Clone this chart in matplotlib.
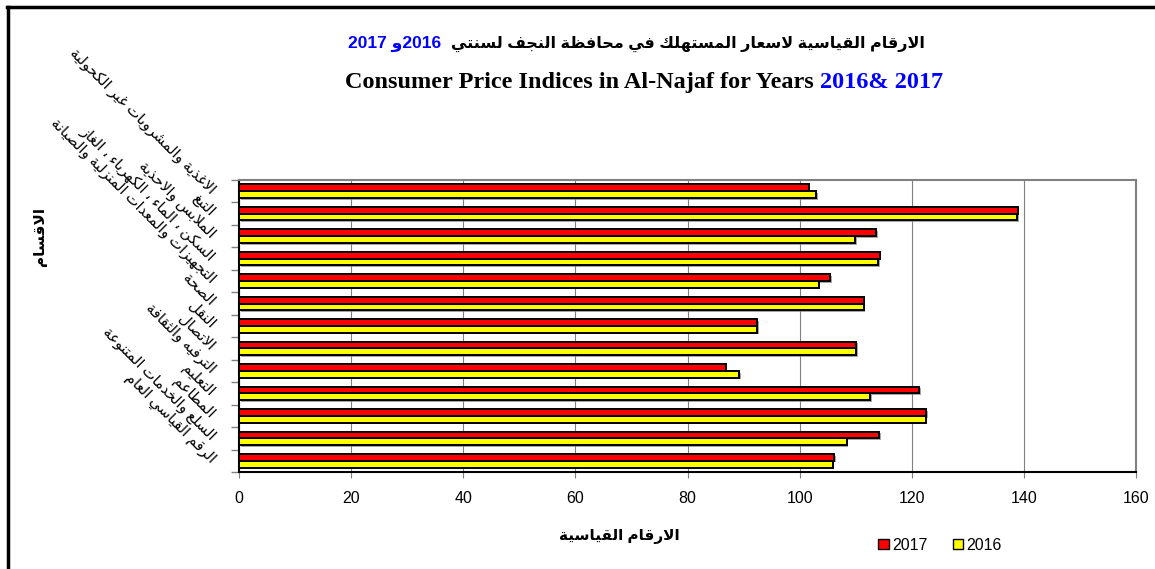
import matplotlib
matplotlib.use('Agg')
import matplotlib.pyplot as plt
import numpy as np
from matplotlib.lines import Line2D
from matplotlib.patches import Patch
from matplotlib import patheffects as pe

# 阿拉伯文字形处理（matplotlib 不做连写和从右到左排版）
_rj = {'ا': 0xFE8D, 'أ': 0xFE83, 'إ': 0xFE87, 'آ': 0xFE81, 'ؤ': 0xFE85, 'ة': 0xFE93,
       'د': 0xFEA9, 'ذ': 0xFEAB, 'ر': 0xFEAD, 'ز': 0xFEAF, 'و': 0xFEED, 'ى': 0xFEEF}
_dj = {'ئ': 0xFE89, 'ب': 0xFE8F, 'ت': 0xFE95, 'ث': 0xFE99, 'ج': 0xFE9D, 'ح': 0xFEA1,
       'خ': 0xFEA5, 'س': 0xFEB1, 'ش': 0xFEB5, 'ص': 0xFEB9, 'ض': 0xFEBD, 'ط': 0xFEC1,
       'ظ': 0xFEC5, 'ع': 0xFEC9, 'غ': 0xFECD, 'ف': 0xFED1, 'ق': 0xFED5, 'ك': 0xFED9,
       'ل': 0xFEDD, 'م': 0xFEE1, 'ن': 0xFEE5, 'ه': 0xFEE9, 'ي': 0xFEF1}
_lamalef = {'ا': 0xFEFB, 'أ': 0xFEF7, 'إ': 0xFEF9, 'آ': 0xFEF5}


def shape(s):
    chars = []
    i = 0
    while i < len(s):
        c = s[i]
        if c == 'ل' and i + 1 < len(s) and s[i + 1] in _lamalef:
            chars.append(('LA', s[i + 1]))
            i += 2
        else:
            chars.append(c)
            i += 1
    out = []
    for k, c in enumerate(chars):
        prev = chars[k - 1] if k > 0 else None
        nxt = chars[k + 1] if k + 1 < len(chars) else None
        jp = isinstance(prev, str) and prev in _dj
        if isinstance(c, tuple):
            out.append(chr(_lamalef[c[1]] + (1 if jp else 0)))
        elif c in _dj:
            jn = nxt is not None and (isinstance(nxt, tuple) or nxt in _dj or nxt in _rj)
            idx = {(False, False): 0, (True, False): 1, (False, True): 2, (True, True): 3}[(jp, jn)]
            out.append(chr(_dj[c] + idx))
        elif c in _rj:
            out.append(chr(_rj[c] + (1 if jp else 0)))
        else:
            out.append(c)
    return ''.join(out)[::-1]


# 数据
categories = ['الاغذية والمشروبات غير الكحولية', 'التبغ', 'الملابس والاحذية',
              'السكن ، الماء ، الكهرباء ، الغاز', 'التجهيزات والمعدات المنزلية والصيانة',
              'الصحة', 'النقل', 'الاتصال', 'الترفيه والثقافة', 'التعليم', 'المطاعم',
              'السلع والخدمات المتنوعة', 'الرقم القياسي العام']
values_2017 = [101.6, 138.9, 113.6, 114.3, 105.5, 111.4, 92.4, 110.1, 86.8, 121.3, 122.6, 114.2, 106.2]
values_2016 = [102.9, 138.8, 109.9, 114.0, 103.4, 111.4, 92.4, 110.1, 89.2, 112.6, 122.5, 108.4, 105.9]
series_names = ['2017', '2016']
x_ticks = [0, 20, 40, 60, 80, 100, 120, 140, 160]

title_ar = 'الارقام القياسية لاسعار المستهلك في محافظة النجف لسنتي'
title_en = 'Consumer Price Indices in Al-Najaf for Years'
title_years = '2016& 2017'
xlabel_ar = 'الارقام القياسية'
ylabel_ar = 'الاقسام'

FONTS = ['Liberation Sans', 'DejaVu Sans']
W, H = 1155, 569
RED, YELLOW, BLUE = '#FF0000', '#FFFF00', '#0000FF'

fig = plt.figure(figsize=(W / 100, H / 100), dpi=100)
ax = fig.add_axes([239 / W, 1 - 472 / H, (1136 - 239) / W, (472 - 180) / H])

y = np.arange(len(categories))
h = 0.3
shadow = [pe.SimplePatchShadow(offset=(1.2, -1.2), shadow_rgbFace='#808080', alpha=0.7), pe.Normal()]
b1 = ax.barh(y - h / 2, values_2017, height=h, color=RED, edgecolor='black', linewidth=1.4, zorder=3)
b2 = ax.barh(y + h / 2, values_2016, height=h, color=YELLOW, edgecolor='black', linewidth=1.4, zorder=3)
for b in list(b1) + list(b2):
    b.set_path_effects(shadow)

ax.set_xlim(0, 160)
ax.set_ylim(len(categories) - 0.5, -0.5)
ax.set_xticks(x_ticks)
ax.set_xticklabels([str(t) for t in x_ticks], family=FONTS, fontsize=11.5)
ax.tick_params(axis='x', length=4, color='#808080', pad=10)
ax.xaxis.grid(True, color='#808080', linewidth=0.8, zorder=0)
ax.set_axisbelow(True)

ax.set_yticks(y)
ax.set_yticklabels([shape(c) for c in categories], family=FONTS, fontsize=10.6)
ax.set_yticks(np.arange(len(categories) + 1) - 0.5, minor=True)
ax.tick_params(axis='y', which='major', length=0, pad=19)
ax.tick_params(axis='y', which='minor', length=6, color='#808080', width=1)
plt.setp(ax.get_yticklabels(), rotation=-45, ha='right', va='center', rotation_mode='anchor')

for s in ['top', 'right']:
    ax.spines[s].set_color('#808080')
    ax.spines[s].set_linewidth(1.5)
for s in ['left', 'bottom']:
    ax.spines[s].set_color('black')
    ax.spines[s].set_linewidth(1.5)

# 轴标题
fig.text(619 / W, 1 - 537 / H, shape(xlabel_ar), family=FONTS, fontsize=11, fontweight='bold',
         ha='center', va='center')
fig.text(40 / W, 1 - 237 / H, shape(ylabel_ar), family=FONTS, fontsize=11, fontweight='bold',
         ha='center', va='center', rotation=90)

# 图例
handles = [Patch(facecolor=RED, edgecolor='black'), Patch(facecolor=YELLOW, edgecolor='black')]
fig.legend(handles, series_names, loc='center', bbox_to_anchor=(940 / W, 1 - 545 / H), ncol=2,
           frameon=False, prop={'family': FONTS, 'size': 11.5}, handlelength=0.65, handleheight=0.65,
           handletextpad=0.2, columnspacing=1.6)

# 标题（分段拼接颜色）
r = fig.canvas.get_renderer()
y1 = 1 - 44 / H
t1 = fig.text(925 / W, y1, shape(title_ar), family=FONTS, fontsize=11.5, fontweight='bold',
              ha='right', va='center')
bb = t1.get_window_extent(renderer=r)
fig.text((bb.x0 - 10) / W, y1, '2017 ' + shape('و') + '2016', family=FONTS, fontsize=12.5,
         fontweight='bold', color=BLUE, ha='right', va='center')

y2 = 1 - 83 / H
ta = fig.text(0, y2, title_en, family='Liberation Serif', fontsize=17.5, fontweight='bold',
              ha='left', va='center')
tb = fig.text(0, y2, title_years, family='Liberation Serif', fontsize=17.5, fontweight='bold',
              color=BLUE, ha='left', va='center')
wa = ta.get_window_extent(renderer=r).width
wb = tb.get_window_extent(renderer=r).width
gap = 6
x_start = 644 - (wa + gap + wb) / 2
ta.set_x(x_start / W)
tb.set_x((x_start + wa + gap) / W)

# 外框（上、左）
fig.add_artist(Line2D([7 / W, 1], [1 - 7 / H, 1 - 7 / H], transform=fig.transFigure, color='black', lw=2.5))
fig.add_artist(Line2D([8 / W, 8 / W], [0, 1 - 7 / H], transform=fig.transFigure, color='black', lw=2.5))

fig.savefig('out.png', dpi=100)
